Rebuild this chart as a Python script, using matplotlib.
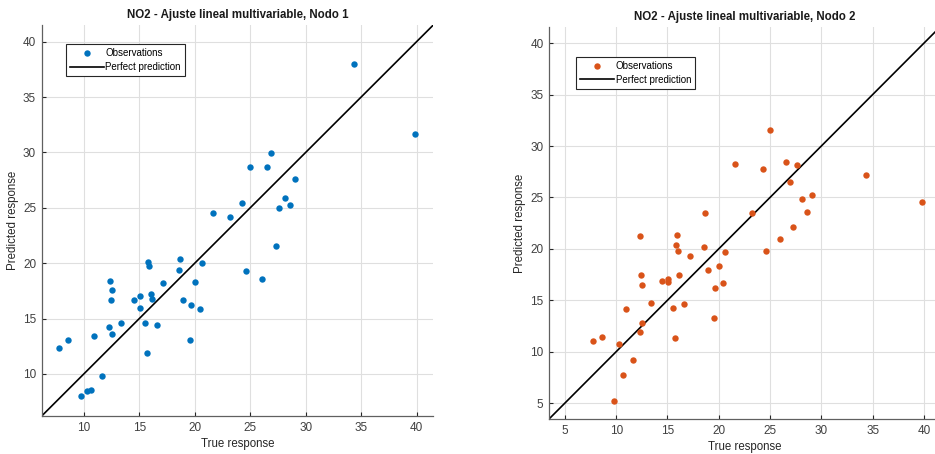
import matplotlib
matplotlib.use('Agg')
from matplotlib import pyplot as plt

# valores
true_resp = [7.78, 8.58, 9.75, 10.30, 10.67, 10.94, 11.65, 12.28, 12.36, 12.45,
             12.50, 12.53, 13.37, 14.48, 15.03, 15.03, 15.53, 15.70, 15.80, 15.88,
             16.07, 16.15, 16.62, 17.15, 18.55, 18.70, 18.95, 19.56, 19.65, 20.01,
             20.43, 20.65, 21.62, 23.20, 24.29, 24.61, 25.00, 26.02, 26.54, 26.90,
             27.28, 27.60, 28.14, 28.61, 29.05, 34.38, 39.85]
pred_nodo1 = [12.37, 13.08, 8.05, 8.44, 8.56, 13.44, 9.82, 14.20, 18.36, 16.68,
              17.58, 13.62, 14.61, 16.65, 17.04, 15.96, 14.59, 11.86, 20.07, 19.71,
              17.19, 16.74, 14.38, 18.18, 19.41, 20.37, 16.65, 13.03, 16.23, 18.30,
              15.87, 19.98, 24.50, 24.20, 25.47, 19.29, 28.70, 18.60, 28.70, 29.90,
              21.51, 24.96, 25.86, 25.26, 27.63, 38.00, 31.67]
pred_nodo2 = [11.03, 11.45, 5.17, 10.73, 7.72, 14.17, 9.18, 11.90, 21.23, 17.41,
              12.77, 16.50, 14.76, 16.92, 17.05, 16.73, 14.20, 11.32, 20.36, 21.39,
              19.77, 17.48, 14.66, 19.26, 20.20, 23.46, 17.96, 13.26, 16.21, 18.35,
              16.66, 19.74, 28.27, 23.50, 27.74, 19.77, 31.57, 21.00, 28.42, 26.52,
              22.17, 28.17, 24.80, 23.63, 25.25, 27.23, 24.60]

titles = ['NO2 - Ajuste lineal multivariable, Nodo 1',
          'NO2 - Ajuste lineal multivariable, Nodo 2']
colors = ['#0072BD', '#D95319']
limits = [(6.2, 41.5), (3.45, 41.55)]
ticks = [[10, 15, 20, 25, 30, 35, 40], [5, 10, 15, 20, 25, 30, 35, 40]]
leg_pos = [(0.062, 0.951), (0.07, 0.924)]

plt.rcParams['font.family'] = ['Liberation Sans', 'DejaVu Sans']

fig = plt.figure(figsize=(9.35, 4.54), dpi=100)
ax1 = fig.add_axes([0.0446, 0.0837, 0.4188, 0.8612])
ax2 = fig.add_axes([0.5872, 0.0771, 0.4179, 0.8628])

axis_col = '#262626'
for ax, pred, title, c, lim, tk, lp in zip([ax1, ax2], [pred_nodo1, pred_nodo2],
                                           titles, colors, limits, ticks, leg_pos):
    ax.plot(true_resp, pred, 'o', color=c, markersize=4.6, markeredgewidth=0,
            label='Observations', zorder=3)
    ax.plot(lim, lim, color='black', linewidth=1.2, label='Perfect prediction',
            zorder=2)
    ax.set_xlim(lim)
    ax.set_ylim(lim)
    ax.set_xticks(tk)
    ax.set_yticks(tk)
    ax.grid(True, color='#dfdfdf', linewidth=0.8)
    ax.set_axisbelow(True)
    for s in ['top', 'right']:
        ax.spines[s].set_visible(False)
    for s in ['left', 'bottom']:
        ax.spines[s].set_color('#606060')
        ax.spines[s].set_linewidth(0.9)
    ax.tick_params(direction='in', length=3, width=0.8, color=axis_col,
                   labelsize=8.5, labelcolor='#404040', pad=4)
    ax.set_title(title, fontsize=8.3, fontweight='bold', color='#1a1a1a', pad=5)
    ax.set_xlabel('True response', fontsize=8.3, color='#262626', labelpad=3)
    ax.set_ylabel('Predicted response', fontsize=8.3, color='#262626', labelpad=3)
    leg = ax.legend(loc='upper left', bbox_to_anchor=lp, fontsize=7,
                    fancybox=False, framealpha=1, edgecolor='#262626',
                    borderpad=0.4, handlelength=3.5, handletextpad=0.15,
                    labelspacing=0.4, borderaxespad=0)
    leg.get_frame().set_linewidth(0.8)

fig.savefig('out.png', dpi=100)
